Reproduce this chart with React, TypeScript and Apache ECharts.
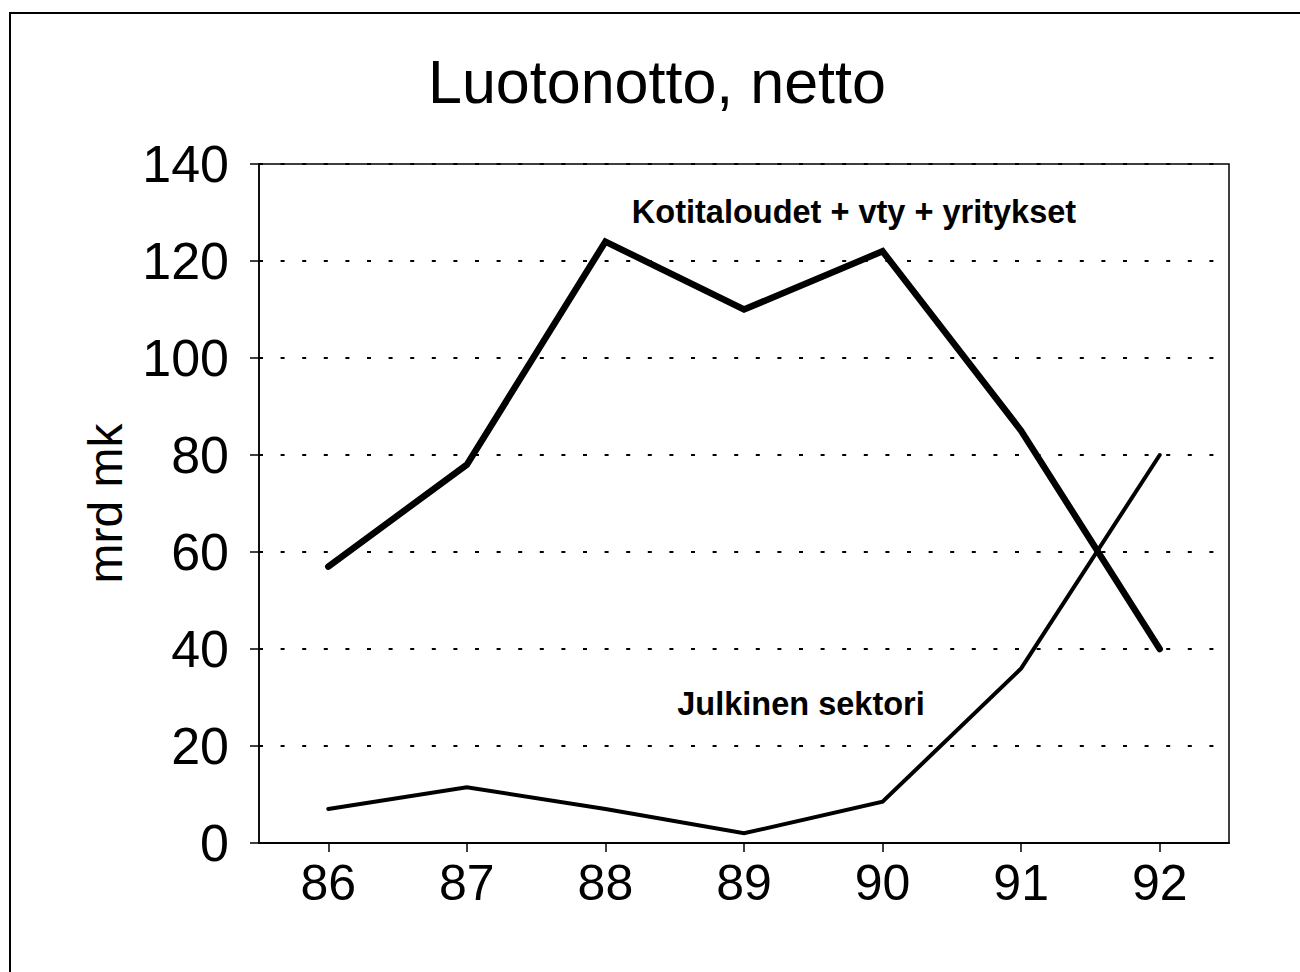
import React, { useEffect, useRef } from "react";
import * as echarts from "echarts";

const years = ["86", "87", "88", "89", "90", "91", "92"];
const households = [57, 78, 124, 110, 122, 85, 40];
const publicSector = [7, 11.5, 7, 2, 8.5, 36, 80];
const titleText = "Luotonotto, netto";
const yName = "mrd mk";
const householdLabel = "Kotitaloudet + vty + yritykset";
const publicLabel = "Julkinen sektori";

const FONT = "'Liberation Sans', Arial, Helvetica, sans-serif";

export default function App() {
  const ref = useRef<HTMLDivElement>(null);
  useEffect(() => {
    if (!ref.current) return;
    const chart = echarts.init(ref.current, null, { renderer: "svg" });
    chart.setOption({
      animation: false,
      backgroundColor: "#fff",
      title: {
        text: titleText,
        left: 423,
        top: 46,
        textStyle: { fontFamily: FONT, fontSize: 61, fontWeight: "normal", color: "#000" },
      },
      grid: {
        left: 259,
        right: 71,
        top: 164,
        bottom: 129,
        show: true,
        borderColor: "#000",
        borderWidth: 1.5,
        backgroundColor: "transparent",
      },
      xAxis: {
        type: "category",
        data: years,
        boundaryGap: true,
        axisLine: { show: true, lineStyle: { color: "#000", width: 2 } },
        axisTick: { show: true, alignWithLabel: true, inside: false, length: 9, lineStyle: { color: "#000", width: 1.5 } },
        axisLabel: { color: "#000", fontFamily: FONT, fontSize: 50, margin: 15 },
        splitLine: { show: false },
      },
      yAxis: [
        {
          type: "value",
          min: 0,
          max: 140,
          interval: 20,
          name: yName,
          nameLocation: "middle",
          nameGap: 130,
          nameTextStyle: { color: "#000", fontFamily: FONT, fontSize: 48 },
          axisLine: { show: true, lineStyle: { color: "#000", width: 1.5 } },
          axisTick: { show: true, inside: false, length: 9, lineStyle: { color: "#000", width: 1.5 } },
          axisLabel: { color: "#000", fontFamily: FONT, fontSize: 52, margin: 30 },
          splitLine: {
            show: true,
            lineStyle: { color: "#000", width: 2, type: [4, 17.6] },
          },
        },
        {
          type: "value",
          min: 0,
          max: 140,
          interval: 20,
          position: "left",
          axisLine: { show: false },
          axisTick: { show: true, inside: true, length: 4, lineStyle: { color: "#000", width: 1.5 } },
          axisLabel: { show: false },
          splitLine: { show: false },
        },
      ],
      series: [
        {
          name: householdLabel,
          type: "line",
          data: households,
          symbol: "none",
          lineStyle: { color: "#000", width: 6.5, cap: "round", join: "miter" },
          z: 3,
        },
        {
          name: publicLabel,
          type: "line",
          data: publicSector,
          symbol: "none",
          lineStyle: { color: "#000", width: 4, cap: "round", join: "miter" },
          z: 3,
        },
      ],
      graphic: [
        {
          type: "rect",
          shape: { x: 10, y: 13, width: 1320, height: 1000 },
          style: { fill: "none", stroke: "#000", lineWidth: 2 },
          silent: true,
        },
        {
          type: "text",
          x: 854,
          y: 212,
          style: {
            text: householdLabel,
            fontFamily: FONT,
            fontSize: 32.5,
            fontWeight: "bold",
            fill: "#000",
            textAlign: "center",
            textVerticalAlign: "middle",
          },
        },
        {
          type: "text",
          x: 801,
          y: 704,
          style: {
            text: publicLabel,
            fontFamily: FONT,
            fontSize: 32.5,
            fontWeight: "bold",
            fill: "#000",
            textAlign: "center",
            textVerticalAlign: "middle",
          },
        },
      ],
    });
    return () => chart.dispose();
  }, []);
  return (
    <div
      ref={ref}
      style={{ position: "fixed", left: 0, top: 0, width: 1300, height: 972 }}
    />
  );
}
